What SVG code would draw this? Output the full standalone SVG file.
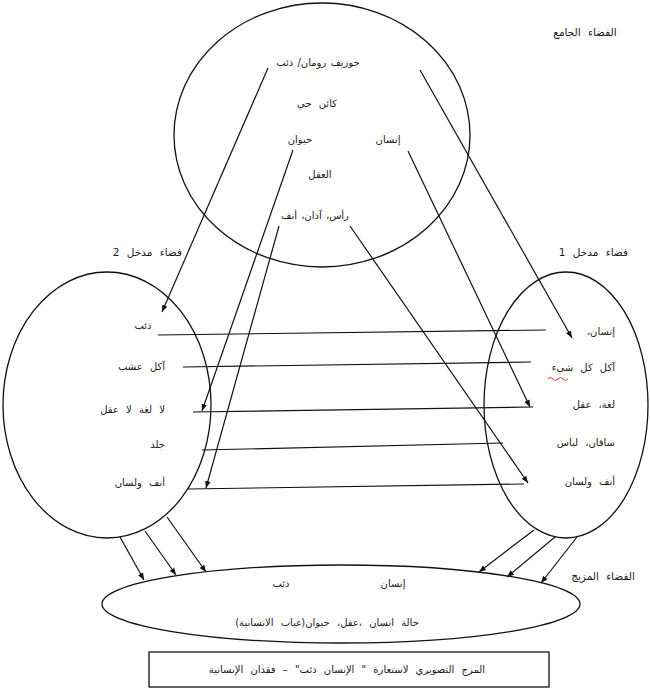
<svg xmlns="http://www.w3.org/2000/svg" width="650" height="700" viewBox="0 0 650 700">
<style>
  .shape { fill: #fff; stroke: #111; stroke-width: 1.3; }
  .t { font-family: "DejaVu Sans", sans-serif; font-size: 10px; fill: #1a1a1a; direction: rtl; word-spacing: 4px; }
  .tight { word-spacing: 1px; }
  .lb { font-size: 10.5px; }
  .c { text-anchor: middle; }
  .r { text-anchor: start; }
  .ln { stroke: #111; stroke-width: 1.2; fill: none; }
  .ar { stroke: #111; stroke-width: 1.2; fill: none; marker-end: url(#ah); }
</style>
<defs>
  <marker id="ah" viewBox="0 0 10 10" refX="10" refY="5" markerWidth="7" markerHeight="7" orient="auto" markerUnits="userSpaceOnUse">
    <path d="M0,1 L10,5 L0,9 z" fill="#111"/>
  </marker>
</defs>
<rect width="650" height="700" fill="#fff"/>

<g id="generic-space">
  <ellipse class="shape" cx="322" cy="135" rx="148" ry="132"/>
  <text class="t c tight" x="318" y="66">جوزيف رومان/ ذئب</text>
  <text class="t c" x="317" y="107">كائن حي</text>
  <text class="t c" x="300" y="143">حيوان</text>
  <text class="t c" x="388" y="143">إنسان</text>
  <text class="t c" x="320" y="178">العقل</text>
  <text class="t c tight" x="315" y="219">رأس، آذان، أنف</text>
  <text class="t c lb" x="585" y="36">الفضاء الجامع</text>
</g>

<g id="input-2">
  <ellipse class="shape" cx="107" cy="405" rx="104" ry="133"/>
  <text class="t r lb" x="182" y="256">فضاء مدخل 2</text>
  <text class="t c" x="143" y="329">ذئب</text>
  <text class="t r" x="165" y="370">آكل عشب</text>
  <text class="t r" x="165" y="413">لا لغة لا عقل</text>
  <text class="t r" x="165" y="448">جلد</text>
  <text class="t r" x="165" y="486">أنف ولسان</text>
</g>

<g id="input-1">
  <ellipse class="shape" cx="566" cy="405" rx="82" ry="133"/>
  <text class="t r lb" x="628" y="256">فضاء مدخل 1</text>
  <text class="t r" x="615" y="335">إنسان،</text>
  <text class="t r" x="615" y="371">آكل كل شيء</text>
  <path d="M548,379 q2.5,-3 5,0 t5,0 t5,0 t5,0" fill="none" stroke="#e03030" stroke-width="1"/>
  <text class="t r" x="615" y="408">لغة، عقل</text>
  <text class="t r" x="615" y="446">ساقان، لباس</text>
  <text class="t r" x="615" y="485">أنف ولسان</text>
</g>

<g id="blend">
  <ellipse class="shape" cx="341" cy="604" rx="239" ry="39"/>
  <text class="t c" x="281" y="587">ذئب</text>
  <text class="t c" x="393" y="587">إنسان</text>
  <text class="t c" x="327" y="626">حالة انسان ،عقل، حيوان(غياب الانسانية)</text>
  <text class="t c lb" x="603" y="580">الفضاء المزيج</text>
</g>

<g id="caption">
  <rect x="149" y="652" width="400" height="35" fill="#fff" stroke="#111" stroke-width="1.3"/>
  <text class="t c" x="347" y="673">المزج التصويري لاستعارة " الإنسان ذئب" – فقدان الإنسانية</text>
</g>

<g id="connectors">
  <line class="ar" x1="268" y1="68" x2="162" y2="312"/>
  <line class="ar" x1="420" y1="70" x2="572" y2="338"/>
  <line class="ar" x1="293" y1="150" x2="202" y2="411"/>
  <line class="ar" x1="408" y1="151" x2="530" y2="407"/>
  <line class="ar" x1="279" y1="226" x2="206" y2="488"/>
  <line class="ar" x1="350" y1="226" x2="528" y2="483"/>

  <line class="ln" x1="158" y1="335" x2="546" y2="330"/>
  <line class="ln" x1="183" y1="367" x2="531" y2="362"/>
  <line class="ln" x1="193" y1="412" x2="533" y2="407"/>
  <line class="ln" x1="202" y1="450" x2="503" y2="443"/>
  <line class="ln" x1="188" y1="489" x2="524" y2="484"/>

  <line class="ar" x1="120" y1="537" x2="144" y2="580"/>
  <line class="ar" x1="145" y1="531" x2="176" y2="575"/>
  <line class="ar" x1="167" y1="517" x2="206" y2="572"/>
  <line class="ar" x1="534" y1="530" x2="479" y2="572"/>
  <line class="ar" x1="555" y1="537" x2="507" y2="577"/>
  <line class="ar" x1="577" y1="537" x2="541" y2="583"/>
</g>
</svg>
